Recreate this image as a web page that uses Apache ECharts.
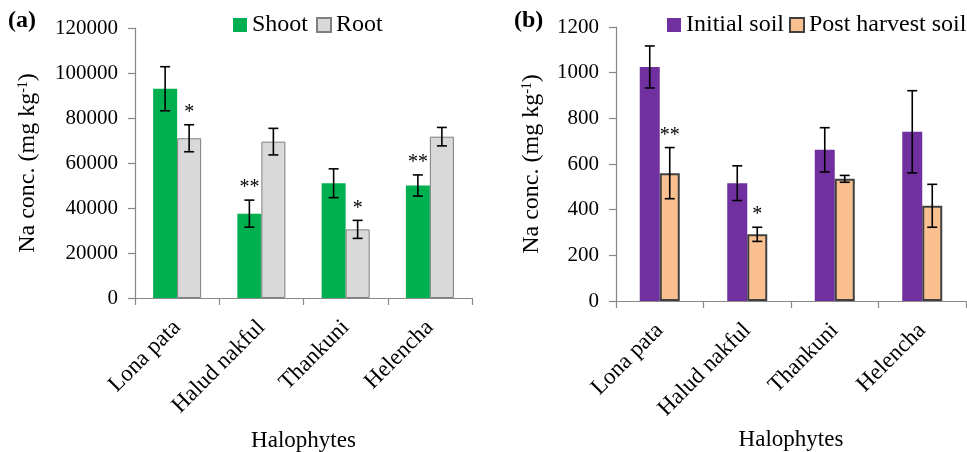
<!DOCTYPE html>
<html>
<head>
<meta charset="utf-8">
<script src="https://cdn.jsdelivr.net/npm/echarts@6/dist/echarts.min.js"></script>
<style>
  html, body, #main { margin: 0; padding: 0; width: 967px; height: 452px; background: #fff; overflow: hidden; }
</style>
</head>
<body>
<div id="main"></div>
<script>
// data
var categories = ["Lona pata", "Halud nakful", "Thankuni", "Helencha"];

// (a) plant tissue Na
var shootMean = [93000, 37500, 51000, 50000];
var shootErr = [9800, 6000, 6400, 4700];
var shootSig = ["", "**", "", "**"];
var rootMean = [71000, 69500, 30500, 71700];
var rootErr = [6000, 5900, 4000, 4100];
var rootSig = ["*", "", "*", ""];

// (b) soil Na
var initialMean = [1025, 516, 662, 741];
var initialErr = [92, 76, 97, 180];
var initialSig = ["", "", "", ""];
var postMean = [560, 292, 535, 417];
var postErr = [112, 31, 15, 94];
var postSig = ["**", "*", "", ""];

var yTicksA = { min: 0, max: 120000, interval: 20000 };
var yTicksB = { min: 0, max: 1200, interval: 200 };

var FONT = "Liberation Serif";

// rows for the error bar series: [category index, mean, error]
function errRows(mean, err) {
  return mean.map(function (m, i) { return [i, m, err[i]]; });
}

// error bars + significance stars, shifted to sit on one bar of the pair
function errSeries(name, idx, mean, err, sig, offset) {
  return {
    name: name + " err",
    type: "custom",
    xAxisIndex: idx,
    yAxisIndex: idx,
    z: 10,
    silent: true,
    data: errRows(mean, err),
    renderItem: function (params, api) {
      var c = api.value(0);
      var m = api.value(1);
      var e = api.value(2);
      var s = sig[params.dataIndex];
      var top = api.coord([c, m + e]);
      var bot = api.coord([c, m - e]);
      var x = top[0] + offset;
      var cap = 5;
      var st = { stroke: "#000", lineWidth: 1.6 };
      var kids = [
        { type: "line", shape: { x1: x, y1: top[1], x2: x, y2: bot[1] }, style: st },
        { type: "line", shape: { x1: x - cap, y1: top[1], x2: x + cap, y2: top[1] }, style: st },
        { type: "line", shape: { x1: x - cap, y1: bot[1], x2: x + cap, y2: bot[1] }, style: st }
      ];
      if (s) {
        kids.push({
          type: "text",
          style: {
            text: s, x: x, y: top[1] - 2,
            align: "center", verticalAlign: "bottom",
            fontFamily: FONT, fontSize: 20, fill: "#000"
          }
        });
      }
      return { type: "group", children: kids };
    }
  };
}

var axisLine = { lineStyle: { color: "#888", width: 1.2 } };

function xAxisFor(idx, gap) {
  return {
    type: "category",
    gridIndex: idx,
    data: categories,
    axisLine: axisLine,
    axisTick: { show: true, length: 7, lineStyle: { color: "#888", width: 1.2 } },
    axisLabel: { rotate: 45, margin: 26, color: "#000", fontFamily: FONT, fontSize: 23, interval: 0 },
    name: "Halophytes",
    nameLocation: "middle",
    nameGap: gap,
    nameTextStyle: { color: "#000", fontFamily: FONT, fontSize: 23 }
  };
}

function yAxisFor(idx, t, gap) {
  return {
    type: "value",
    gridIndex: idx,
    min: t.min, max: t.max, interval: t.interval,
    splitLine: { show: false },
    axisLine: { show: true, lineStyle: { color: "#888", width: 1.2 } },
    axisTick: { show: true, length: 7, lineStyle: { color: "#888", width: 1.2 } },
    axisLabel: {
      margin: 17, color: "#000", fontFamily: FONT, fontSize: 21,
      formatter: function (v) { return String(v); }
    },
    name: "Na conc. (mg kg{sup|-1})",
    nameLocation: "middle",
    nameRotate: 90,
    nameGap: gap,
    nameTextStyle: {
      color: "#000", fontFamily: FONT, fontSize: 24,
      rich: { sup: { fontFamily: FONT, fontSize: 14, verticalAlign: "top", color: "#000" } }
    }
  };
}

var myChart = echarts.init(document.getElementById("main"));
var option = {
  animation: false,
  backgroundColor: "#fff",
  textStyle: { fontFamily: FONT },
  grid: [
    { left: 135, right: 495, top: 28, bottom: 154, containLabel: false, outerBoundsMode: "none" },
    { left: 616, right: 1, top: 27, bottom: 151, containLabel: false, outerBoundsMode: "none" }
  ],
  legend: [
    {
      left: 228, top: 8, itemWidth: 14, itemHeight: 14, itemGap: 8,
      icon: "rect",
      textStyle: { color: "#000", fontFamily: FONT, fontSize: 24 },
      data: ["Shoot", "Root"]
    },
    {
      left: 662, top: 8, width: 310, itemWidth: 14, itemHeight: 14, itemGap: 5,
      icon: "rect",
      textStyle: { color: "#000", fontFamily: FONT, fontSize: 24 },
      data: ["Initial soil", "Post harvest soil"]
    }
  ],
  graphic: [
    { type: "text", left: 8, top: 9, style: { text: "(a)", fontFamily: FONT, fontSize: 24, fontWeight: "bold", fill: "#000" } },
    { type: "text", left: 514, top: 9, style: { text: "(b)", fontFamily: FONT, fontSize: 24, fontWeight: "bold", fill: "#000" } }
  ],
  xAxis: [xAxisFor(0, 131), xAxisFor(1, 127)],
  yAxis: [yAxisFor(0, yTicksA, 95), yAxisFor(1, yTicksB, 72)],
  series: [
    {
      name: "Shoot", type: "bar", xAxisIndex: 0, yAxisIndex: 0,
      barWidth: 24, barGap: "0%",
      itemStyle: { color: "#00B050" },
      data: shootMean
    },
    {
      name: "Root", type: "bar", xAxisIndex: 0, yAxisIndex: 0,
      barWidth: 24, barGap: "0%",
      itemStyle: { color: "#D9D9D9", borderColor: "#7F7F7F", borderWidth: 1 },
      data: rootMean
    },
    {
      name: "Initial soil", type: "bar", xAxisIndex: 1, yAxisIndex: 1,
      barWidth: 20, barGap: "0%",
      itemStyle: { color: "#7030A0" },
      data: initialMean
    },
    {
      name: "Post harvest soil", type: "bar", xAxisIndex: 1, yAxisIndex: 1,
      barWidth: 20, barGap: "0%",
      itemStyle: { color: "#FAC090", borderColor: "#404040", borderWidth: 2 },
      data: postMean
    },
    errSeries("Shoot", 0, shootMean, shootErr, shootSig, -12),
    errSeries("Root", 0, rootMean, rootErr, rootSig, 12),
    errSeries("Initial soil", 1, initialMean, initialErr, initialSig, -10),
    errSeries("Post harvest soil", 1, postMean, postErr, postSig, 10)
  ]
};
myChart.setOption(option);
window.onresize = myChart.resize;
</script>
</body>
</html>
